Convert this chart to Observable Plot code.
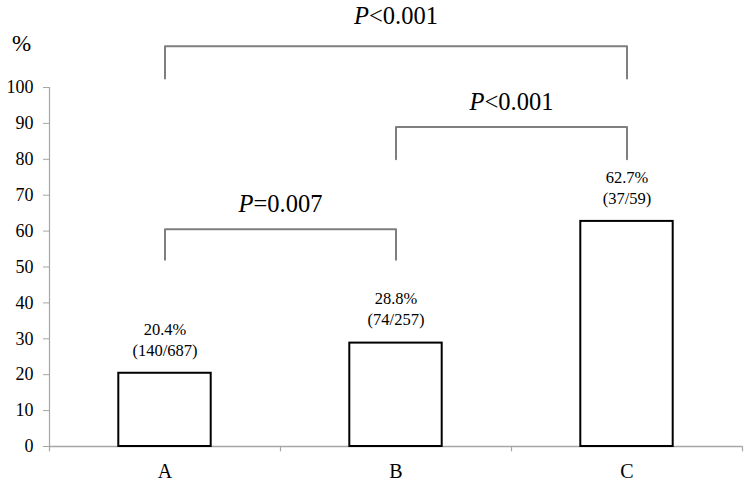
<!DOCTYPE html>
<html>
<head>
<meta charset="utf-8">
<script src="https://cdn.jsdelivr.net/npm/d3@7"></script>
<script src="https://cdn.jsdelivr.net/npm/@observablehq/plot@0.6"></script>
<style>
  html, body { margin: 0; padding: 0; background: #fff; }
  #chart { position: relative; width: 748px; height: 482px; }
  #unit { position: absolute; left: 12px; top: 32px; font-size: 23px; line-height: 1; font-family: "Liberation Serif", "DejaVu Serif", serif; }
  svg text { font-family: "Liberation Serif", "DejaVu Serif", serif !important; }
</style>
</head>
<body>
<div id="chart"><div id="unit">%</div></div>
<script>
const categories = ["A", "B", "C"];
const values = [20.4, 28.8, 62.7];
const pctLabels = ["20.4%", "28.8%", "62.7%"];
const countLabels = ["(140/687)", "(74/257)", "(37/59)"];
const yTicks = [0, 10, 20, 30, 40, 50, 60, 70, 80, 90, 100];

const bracketFrom = ["A", "B", "A"];
const bracketTo = ["B", "C", "C"];
const bracketBottom = [52, 80, 102.5];
const bracketTop = [60.5, 89, 111.5];
const bracketLabelY = [67.4, 95.8, 119.8];
const bracketLabels = ["P=0.007", "P<0.001", "P<0.001"];

const idx = c => categories.indexOf(c);
const bars = categories.map((c, i) => ({i, c, v: values[i], pct: pctLabels[i], cnt: countLabels[i]}));
const bracketPts = [];
bracketFrom.forEach((f, k) => {
  const a = idx(f), b = idx(bracketTo[k]);
  bracketPts.push({k, x: a, y: bracketBottom[k]}, {k, x: a, y: bracketTop[k]},
                  {k, x: b, y: bracketTop[k]}, {k, x: b, y: bracketBottom[k]});
});
const bracketText = bracketLabels.map((t, k) => ({t, x: (idx(bracketFrom[k]) + idx(bracketTo[k])) / 2, y: bracketLabelY[k]}));
const boundaries = d3.range(categories.length + 1).map(i => i - 0.5);

const serif = "Liberation Serif";
const half = 0.2;

const plot = Plot.plot({
  width: 748,
  height: 482,
  marginLeft: 49,
  marginRight: 6,
  marginTop: 87,
  marginBottom: 36,
  style: {fontFamily: serif, background: "white", overflow: "visible"},
  x: {type: "linear", domain: [-0.5, categories.length - 0.5], axis: null},
  y: {domain: [0, 100], axis: null},
  marks: [
    Plot.ruleX([-0.5], {y1: 0, y2: 100, stroke: "#a6a6a6", strokeWidth: 1.2}),
    Plot.axisY({ticks: yTicks, tickSize: 6, tickPadding: 10, stroke: "#a6a6a6", fill: "black", fontSize: 18}),
    Plot.ruleY([0], {stroke: "#a6a6a6", strokeWidth: 1.5}),
    Plot.ruleX(boundaries, {y1: 0, y2: -1.5, stroke: "#a6a6a6", strokeWidth: 1.2}),
    Plot.axisX({ticks: categories.map((c, i) => i), tickFormat: i => categories[i], tickSize: 0, tickPadding: 17, fontSize: 20, fill: "black"}),
    Plot.rectY(bars, {x1: d => d.i - half, x2: d => d.i + half, y1: 0, y2: "v", fill: "white", stroke: "black", strokeWidth: 2}),
    Plot.text(bars, {x: "i", y: "v", text: "cnt", dy: -23, fontSize: 16.5, fill: "black"}),
    Plot.text(bars, {x: "i", y: "v", text: "pct", dy: -44, fontSize: 16.5, fill: "black"}),
    Plot.line(bracketPts, {x: "x", y: "y", z: "k", stroke: "#7f7f7f", strokeWidth: 2}),
    Plot.text(bracketText, {x: "x", y: "y", text: "t", fontSize: 24.5, fill: "black"})
  ]
});

d3.select(plot).selectAll("text").each(function() {
  const el = d3.select(this);
  const t = this.textContent;
  const m = /^P([<=].*)$/.exec(t);
  if (m && this.childElementCount === 0) {
    el.text(null);
    el.append("tspan").attr("font-style", "italic").text("P");
    el.append("tspan").text(m[1]);
  }
});

document.getElementById("chart").appendChild(plot);
</script>
</body>
</html>
